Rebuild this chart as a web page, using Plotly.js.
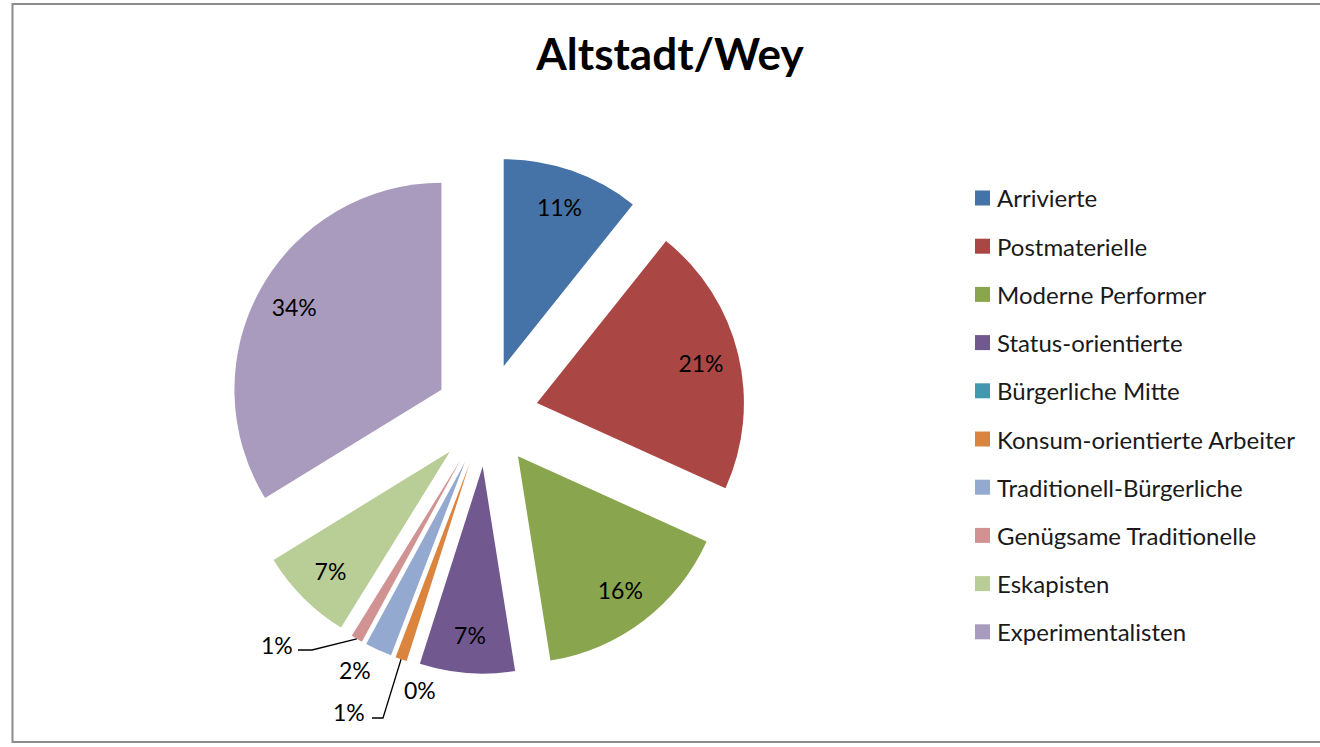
<!DOCTYPE html>
<html><head><meta charset="utf-8">
<script src="https://cdn.plot.ly/plotly-3.0.1.min.js"></script>
<style>html,body{margin:0;padding:0;background:#fff;} #chart{width:1320px;height:747px;}</style>
</head><body><div id="chart"></div>
<script>
// ---- data ----
const categories = ['Arrivierte','Postmaterielle','Moderne Performer','Status-orientierte','Bürgerliche Mitte','Konsum-orientierte Arbeiter','Traditionell-Bürgerliche','Genügsame Traditionelle','Eskapisten','Experimentalisten'];
const shares = [10.7, 21.0, 15.7, 7.4, 0, 0.9, 2.1, 0.9, 7.4, 33.7];
const sliceColors = ['#4572A7','#AA4643','#89A54E','#71588F','#4198AF','#DB843D','#93A9CF','#D19392','#B9CD96','#A99BBD'];
const chartTitle = 'Altstadt/Wey';

// ---- layout constants ----
const W = 1320, H = 747;
const FONT = 'Lato, "Open Sans", sans-serif';
const PULL = 0.25;
const box = {x0: 227.85, x1: 745.35, y0: 156.25, y1: 673.75};   // pie box in pixels
const domain = {x: [box.x0 / W, box.x1 / W], y: [1 - box.y1 / H, 1 - box.y0 / H]};
const pullAll = shares.map(() => PULL);

// slices whose labels sit outside (placed Excel-style below)
const outsideIdx = [4, 5, 6, 7];
// label offsets for outside labels: [label x, label y, elbow x, elbow y, end x] (pixels); null elbow = no leader
const outsideLabelPos = {
  4: {lx: 420, ly: 690},
  5: {lx: 349, ly: 712, ex: 383, ey: 718, endx: 372},
  6: {lx: 355, ly: 670},
  7: {lx: 277, ly: 645, ex: 312, ey: 650, endx: 298}
};

const pieBase = {
  type: 'pie', labels: categories, values: shares, sort: false, direction: 'clockwise',
  rotation: 0, domain: domain, pull: pullAll, showlegend: false, hoverinfo: 'label+percent'
};

const pieColored = Object.assign({}, pieBase, {
  marker: {colors: sliceColors, line: {width: 0}},
  textinfo: 'none'
});

const pieLabels = Object.assign({}, pieBase, {
  hole: 0.63,
  marker: {colors: shares.map(() => 'rgba(0,0,0,0)'), line: {width: 0}},
  texttemplate: '%{percent:.0%}',
  textposition: shares.map((v, i) => outsideIdx.includes(i) ? 'none' : 'inside'),
  insidetextorientation: 'horizontal',
  insidetextfont: {family: FONT, size: 23, color: '#000'},
  hoverinfo: 'skip'
});

const annotations = [];
const shapes = [];

// outside labels with leader lines, anchored on the slice tip computed from the data
const total = shares.reduce((a, b) => a + b, 0);
const cx = (box.x0 + box.x1) / 2, cy = (box.y0 + box.y1) / 2;
const rOuter = (box.x1 - box.x0) / 2;  // r * (1 + pull)
let cum = 0;
shares.forEach((v, i) => {
  const mid = (cum + v / 2) / total * 2 * Math.PI;
  cum += v;
  if (!outsideIdx.includes(i)) return;
  const p = outsideLabelPos[i];
  annotations.push({xref: 'paper', yref: 'paper', x: p.lx / W, y: 1 - p.ly / H, xanchor: 'center', yanchor: 'middle',
    showarrow: false, text: Math.round(v / total * 100) + '%', font: {family: FONT, size: 23, color: '#000'}});
  if (p.ex !== undefined) {
    const tx = cx + rOuter * Math.sin(mid), ty = cy - rOuter * Math.cos(mid);
    shapes.push({type: 'path', xref: 'paper', yref: 'paper',
      path: `M ${tx / W} ${1 - ty / H} L ${p.ex / W} ${1 - p.ey / H} L ${p.endx / W} ${1 - p.ey / H}`,
      line: {color: '#000', width: 1.3}});
  }
});

// manual legend (Excel style spacing)
const legX = 975, legTextX = 995, legY0 = 198, legStep = 48.2, sq = 15;
categories.forEach((c, i) => {
  annotations.push({
    xref: 'paper', yref: 'paper', x: legTextX / W, y: 1 - (legY0 + i * legStep) / H,
    xanchor: 'left', yanchor: 'middle', showarrow: false, text: c,
    font: {family: FONT, size: 24, color: '#1a1a1a'}
  });
  shapes.push({
    type: 'rect', xref: 'paper', yref: 'paper',
    x0: legX / W, x1: (legX + sq) / W,
    y0: 1 - (legY0 + i * legStep - sq / 2) / H, y1: 1 - (legY0 + i * legStep + sq / 2) / H,
    fillcolor: sliceColors[i], line: {width: 0}
  });
});
shapes.push({type: 'rect', xref: 'paper', yref: 'paper', x0: 12.5 / W, x1: 1330 / W, y0: 1 - 742 / H, y1: 1 - 4 / H,
  line: {color: '#8c8c8c', width: 2}, fillcolor: 'rgba(0,0,0,0)'});

const layout = {
  width: W, height: H, margin: {l: 0, r: 0, t: 0, b: 0},
  paper_bgcolor: '#fff', plot_bgcolor: '#fff',
  title: {text: '<b>' + chartTitle + '</b>', x: 670 / W, xanchor: 'center', y: 1 - 55 / H, yanchor: 'middle', yref: 'container',
    font: {family: FONT, size: 44, color: '#000'}},
  showlegend: false,
  annotations: annotations, shapes: shapes
};

Plotly.newPlot('chart', [pieColored, pieLabels], layout, {displayModeBar: false, staticPlot: true});
</script></body></html>
